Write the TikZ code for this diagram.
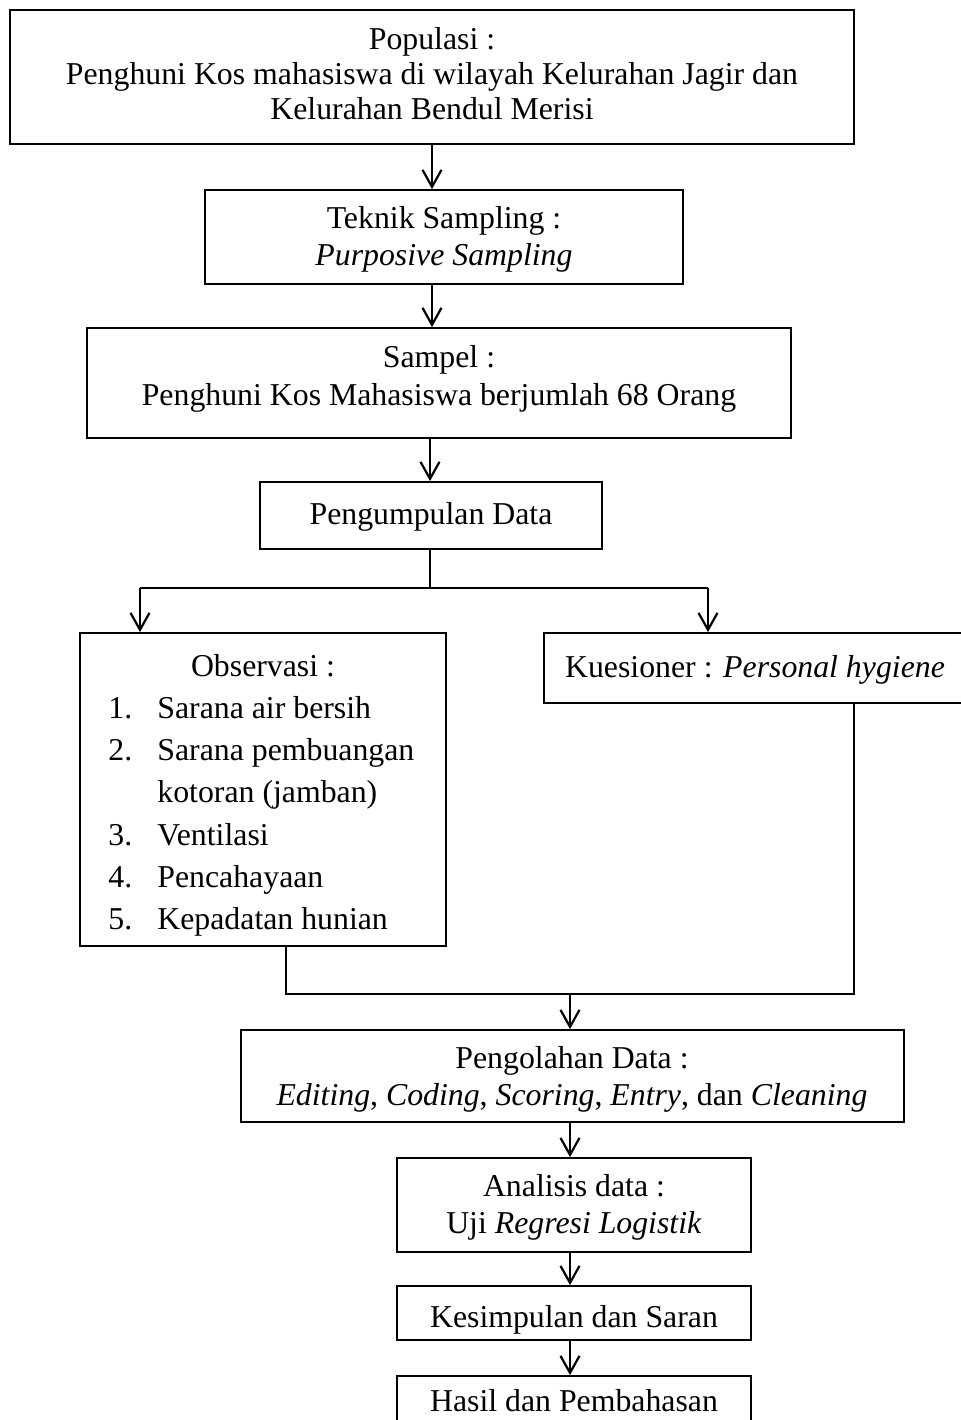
\documentclass[tikz,border=0pt]{standalone}
\usepackage{fontspec}
\setmainfont{Liberation Serif}
\usetikzlibrary{arrows.meta}
\begin{document}
\begin{tikzpicture}[x=0.5pt,y=-0.5pt,
  box/.style={draw,line width=0.9pt,inner sep=0pt,minimum width=#1},
  txt/.style={inner sep=0pt,anchor=base,align=center,font=\fontsize{15.9}{18}\selectfont},
  ltxt/.style={inner sep=0pt,anchor=base west,font=\fontsize{15.9}{18}\selectfont},
  plain/.style={line width=0.7pt},
  arr/.style={line width=1.1pt,-{Straight Barb[length=8.5pt,width=9.5pt,line width=1.1pt]}}]
\useasboundingbox (0,0) rectangle (960,1420);
% boxes
\node[box=422pt,minimum height=67pt] (b1) at (432,77) {};
\node[box=239pt,minimum height=47pt] (b2) at (444,237) {};
\node[box=352pt,minimum height=55pt] (b3) at (439,383) {};
\node[box=171pt,minimum height=33.5pt] (b4) at (431,515.5) {};
\node[box=183pt,minimum height=156.5pt] (b5) at (263,789.5) {};
\node[box=220pt,minimum height=35pt] (b6) at (764,668) {};
\node[box=331.5pt,minimum height=46pt] (b7) at (572.5,1076) {};
\node[box=177pt,minimum height=47pt] (b8) at (574,1205) {};
\node[box=177pt,minimum height=27pt] (b9) at (574,1313) {};
\node[box=177pt,minimum height=32pt] (b10) at (574,1408) {};
% texts
\node[txt] (t1a) at (432,49) {Populasi :};
\node[txt] (t1b) at (432,84) {Penghuni Kos mahasiswa di wilayah Kelurahan Jagir dan};
\node[txt] (t1c) at (432,119) {Kelurahan Bendul Merisi};
\node[txt] (t2a) at (444,228) {Teknik Sampling :};
\node[txt] (t2b) at (444,265) {\textit{Purposive Sampling}};
\node[txt] (t3a) at (439,367) {Sampel :};
\node[txt] (t3b) at (439,405) {Penghuni Kos Mahasiswa berjumlah 68 Orang};
\node[txt] (t4) at (431,524) {Pengumpulan Data};
\node[txt] (t5) at (263,676) {Observasi :};
\node[ltxt] (n1) at (108,718) {1.};
\node[ltxt] (i1) at (157,718) {Sarana air bersih};
\node[ltxt] (n2) at (108,760) {2.};
\node[ltxt] (i2) at (157,760) {Sarana pembuangan};
\node[ltxt] (i2b) at (157,802) {kotoran (jamban)};
\node[ltxt] (n3) at (108,845) {3.};
\node[ltxt] (i3) at (157,845) {Ventilasi};
\node[ltxt] (n4) at (108,887) {4.};
\node[ltxt] (i4) at (157,887) {Pencahayaan};
\node[ltxt] (n5) at (108,929) {5.};
\node[ltxt] (i5) at (157,929) {Kepadatan hunian};
\node[txt] (t6) at (755,677) {Kuesioner : \textit{Personal hygiene}};
\node[txt] (t7a) at (572,1068) {Pengolahan Data :};
\node[txt] (t7b) at (572,1105) {\textit{Editing}, \textit{Coding}, \textit{Scoring}, \textit{Entry}, dan \textit{Cleaning}};
\node[txt] (t8a) at (574,1196) {Analisis data :};
\node[txt] (t8b) at (574,1233) {Uji \textit{Regresi Logistik}};
\node[txt] (t9) at (574,1327) {Kesimpulan dan Saran};
\node[txt] (t10) at (574,1411) {Hasil dan Pembahasan};
% helper coordinates
\coordinate (xa) at (432,0);
\coordinate (xb) at (430,0);
\coordinate (xs) at (570,0);
\coordinate (fL) at (140,588);
\coordinate (fR) at (708,588);
\coordinate (mL) at (286,994);
\coordinate (mR) at (854,994);
\coordinate (mx) at (570,994);
% connectors
\draw[arr] (b1.south -| xa) -- (b2.north -| xa);
\draw[arr] (b2.south -| xa) -- (b3.north -| xa);
\draw[arr] (b3.south -| xb) -- (b4.north -| xb);
\draw[plain] (b4.south -| xb) -- (fL -| xb);
\draw[plain] (fL) -- (fR);
\draw[arr] (fL) -- (fL |- b5.north);
\draw[arr] (fR) -- (fR |- b6.north);
\draw[plain] (mL |- b5.south) -- (mL) -- (mR) -- (mR |- b6.south);
\draw[arr] (mx) -- (mx |- b7.north);
\draw[arr] (b7.south -| xs) -- (b8.north -| xs);
\draw[arr] (b8.south -| xs) -- (b9.north -| xs);
\draw[arr] (b9.south -| xs) -- (b10.north -| xs);
\end{tikzpicture}
\end{document}
